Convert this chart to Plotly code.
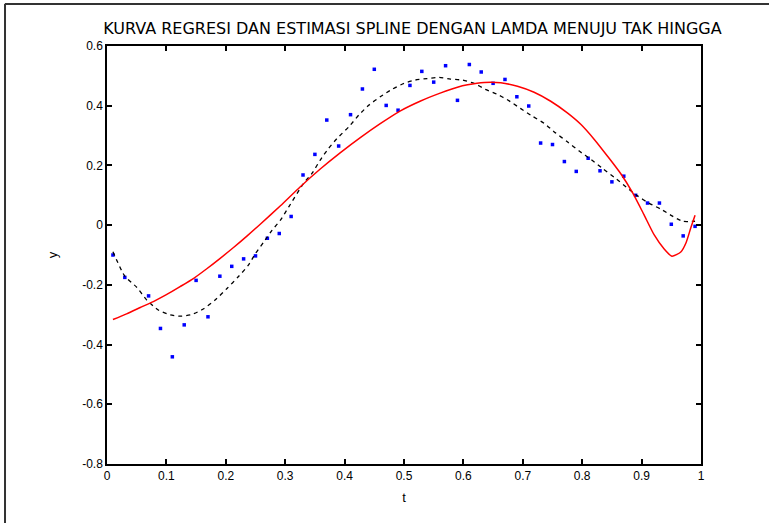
import plotly.graph_objects as go

# observed data points
t_obs = [0.01, 0.03, 0.07, 0.09, 0.11, 0.13, 0.15, 0.17, 0.19, 0.21, 0.23, 0.25,
         0.27, 0.29, 0.31, 0.33, 0.35, 0.37, 0.39, 0.41, 0.43, 0.45, 0.47, 0.49,
         0.51, 0.53, 0.55, 0.57, 0.59, 0.61, 0.63, 0.65, 0.67, 0.69, 0.71, 0.73,
         0.75, 0.77, 0.79, 0.81, 0.83, 0.85, 0.87, 0.89, 0.91, 0.93, 0.95, 0.97, 0.99]
y_obs = [-0.10, -0.175, -0.237, -0.346, -0.441, -0.334, -0.185, -0.307, -0.171, -0.138,
         -0.113, -0.103, -0.044, -0.028, 0.029, 0.168, 0.237, 0.352, 0.265, 0.37,
         0.456, 0.522, 0.401, 0.385, 0.468, 0.515, 0.479, 0.534, 0.418, 0.538,
         0.513, 0.475, 0.488, 0.43, 0.399, 0.275, 0.27, 0.213, 0.18, 0.224,
         0.182, 0.145, 0.164, 0.10, 0.074, 0.074, 0.003, -0.036, -0.004]

# regression curve (black dashed)
t_reg = [0.01, 0.03, 0.05, 0.067, 0.087, 0.106, 0.123, 0.143, 0.162, 0.182, 0.202,
         0.221, 0.238, 0.25, 0.264, 0.278, 0.292, 0.306, 0.331, 0.345, 0.359, 0.373,
         0.387, 0.407, 0.424, 0.441, 0.46, 0.48, 0.5, 0.519, 0.539, 0.559, 0.578,
         0.598, 0.618, 0.637, 0.657, 0.674, 0.696, 0.716, 0.736, 0.755, 0.775,
         0.795, 0.815, 0.834, 0.854, 0.874, 0.893, 0.913, 0.933, 0.952, 0.969, 0.99]
y_reg = [-0.089, -0.171, -0.208, -0.251, -0.285, -0.30, -0.305, -0.299, -0.281, -0.251,
         -0.212, -0.173, -0.134, -0.095, -0.056, -0.017, 0.017, 0.061, 0.14, 0.173,
         0.218, 0.257, 0.29, 0.329, 0.369, 0.402, 0.43, 0.455, 0.475, 0.486, 0.491,
         0.495, 0.489, 0.486, 0.475, 0.455, 0.438, 0.42, 0.391, 0.365, 0.341, 0.309,
         0.279, 0.248, 0.22, 0.19, 0.16, 0.128, 0.098, 0.073, 0.053, 0.03, 0.013, 0.013]

# spline estimate (red)
t_spl = [0.01, 0.033, 0.056, 0.078, 0.10, 0.123, 0.146, 0.168, 0.19, 0.213, 0.236,
         0.258, 0.292, 0.325, 0.359, 0.393, 0.427, 0.46, 0.494, 0.528, 0.562, 0.59,
         0.607, 0.635, 0.663, 0.691, 0.719, 0.747, 0.775, 0.798, 0.82, 0.843, 0.865,
         0.885, 0.904, 0.921, 0.938, 0.951, 0.966, 0.975, 0.983, 0.99]
y_spl = [-0.316, -0.297, -0.276, -0.256, -0.233, -0.206, -0.178, -0.146, -0.112, -0.075,
         -0.036, 0.003, 0.065, 0.128, 0.188, 0.243, 0.294, 0.340, 0.383, 0.416, 0.443,
         0.462, 0.470, 0.478, 0.477, 0.465, 0.445, 0.415, 0.376, 0.337, 0.288, 0.230,
         0.172, 0.108, 0.035, -0.032, -0.080, -0.104, -0.090, -0.058, -0.008, 0.033]

x_ticks = [0, 0.1, 0.2, 0.3, 0.4, 0.5, 0.6, 0.7, 0.8, 0.9, 1]
x_ticktext = ["0", "0.1", "0.2", "0.3", "0.4", "0.5", "0.6", "0.7", "0.8", "0.9", "1"]
y_ticks = [-0.8, -0.6, -0.4, -0.2, 0, 0.2, 0.4, 0.6]
y_ticktext = ["-0.8", "-0.6", "-0.4", "-0.2", "0", "0.2", "0.4", "0.6"]

fig = go.Figure()
fig.add_trace(go.Scatter(x=t_obs, y=y_obs, mode="markers",
                         marker=dict(symbol="square", size=3.5, color="#0000FF"),
                         showlegend=False))
fig.add_trace(go.Scatter(x=t_reg, y=y_reg, mode="lines",
                         line=dict(color="black", width=1.3, dash="4px,4px", shape="spline", smoothing=0.6),
                         showlegend=False))
fig.add_trace(go.Scatter(x=t_spl, y=y_spl, mode="lines",
                         line=dict(color="#FF0000", width=1.5, shape="spline", smoothing=0.6),
                         showlegend=False))

axis_common = dict(showgrid=False, zeroline=False, showline=True, linecolor="black",
                   linewidth=1.5, mirror="ticks", ticks="inside", ticklen=5,
                   tickcolor="black", tickwidth=1.5,
                   tickfont=dict(family="Liberation Sans, Arial", size=12, color="black"))

fig.update_xaxes(range=[0, 1], tickvals=x_ticks, ticktext=x_ticktext,
                 title=dict(text="t", font=dict(family="Liberation Sans, Arial", size=13, color="black"),
                            standoff=11), **axis_common)
fig.update_yaxes(range=[-0.8, 0.6], tickvals=y_ticks, ticktext=y_ticktext,
                 title=dict(text="y", font=dict(family="Liberation Sans, Arial", size=13, color="black"),
                            standoff=22), **axis_common)

# outer figure frame (top and left edges)
fig.add_shape(type="line", xref="paper", yref="paper", x0=-0.172, x1=1.12, y0=1.1005, y1=1.1005,
              line=dict(color="#333333", width=2))
fig.add_shape(type="line", xref="paper", yref="paper", x0=-0.1717, x1=-0.1717, y0=-0.15, y1=1.1005,
              line=dict(color="#333333", width=2))

fig.update_layout(
    width=769, height=523,
    margin=dict(l=107, r=68, t=46, b=59),
    paper_bgcolor="white", plot_bgcolor="white",
    title=dict(text="KURVA REGRESI DAN ESTIMASI SPLINE DENGAN LAMDA MENUJU TAK HINGGA",
               x=0.5364, xanchor="center", y=0.946, yanchor="middle",
               font=dict(family="DejaVu Sans, Liberation Sans", size=16, color="black")),
)

fig.write_html("out.html", config={"displayModeBar": False},
               post_script="document.body.style.margin='0';document.body.style.overflow='hidden';")
